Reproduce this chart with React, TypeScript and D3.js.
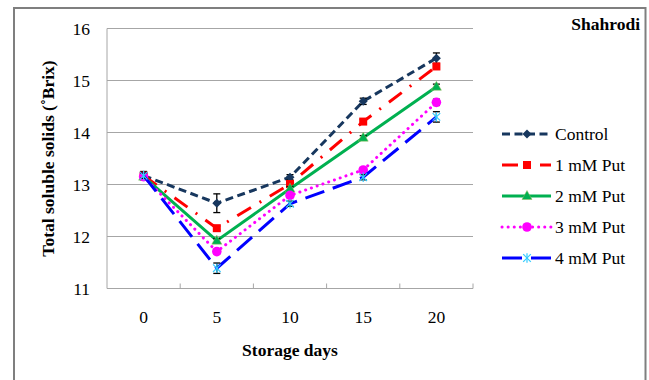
import React from "react";
import * as d3 from "d3";

const days = ["0", "5", "10", "15", "20"];
const seriesNames = ["Control", "1 mM Put", "2 mM Put", "3 mM Put", "4 mM Put"];
const control = [13.17, 12.64, 13.14, 14.6, 15.43];
const put1 = [13.17, 12.16, 13.01, 14.21, 15.27];
const put2 = [13.15, 11.92, 12.92, 13.9, 14.88];
const put3 = [13.15, 11.71, 12.79, 13.28, 14.58];
const put4 = [13.17, 11.39, 12.63, 13.14, 14.3];
const errControl = [0.08, 0.18, 0.05, 0.06, 0.1];
const errPut1 = [0.05, 0.04, 0.04, 0.04, 0.05];
const errPut2 = [0.04, 0.04, 0.04, 0.04, 0.05];
const errPut3 = [0.04, 0.04, 0.04, 0.04, 0.06];
const errPut4 = [0.05, 0.1, 0.05, 0.05, 0.1];
const yTicks = [11, 12, 13, 14, 15, 16];

const values = [control, put1, put2, put3, put4];
const errs = [errControl, errPut1, errPut2, errPut3, errPut4];
const colors = ["#17375E", "#FF0000", "#00B050", "#FF00FF", "#0000FF"];
const dashes = ["8,4.5", "16,10,2,10", "none", "0.1,6", "20,9"];
const caps = ["butt", "butt", "butt", "round", "butt"];
const markers = ["diamond", "square", "triangle", "circle", "star"];

const FONT = "Liberation Serif, DejaVu Serif, Times New Roman, serif";
const ts = { fontFamily: FONT };
const FS = 17.5;

function Marker({ type, x, y, color }: { type: string; x: number; y: number; color: string }) {
  if (type === "diamond") {
    const s = 4.5;
    return <path d={`M${x},${y - s}L${x + s},${y}L${x},${y + s}L${x - s},${y}Z`} fill={color} />;
  }
  if (type === "square") {
    return <rect x={x - 4} y={y - 4} width={8} height={8} fill={color} />;
  }
  if (type === "triangle") {
    return <path d={`M${x},${y - 5.5}L${x + 5},${y + 3.5}L${x - 5},${y + 3.5}Z`} fill={color} stroke="#9BBB59" strokeWidth={0.5} />;
  }
  if (type === "circle") {
    return <circle cx={x} cy={y} r={4.8} fill={color} />;
  }
  const s = 3.8;
  return (
    <g stroke="#33CCFF" strokeWidth={1.2}>
      <line x1={x - s} y1={y - s} x2={x + s} y2={y + s} />
      <line x1={x - s} y1={y + s} x2={x + s} y2={y - s} />
      <line x1={x} y1={y - s - 1} x2={x} y2={y + s + 1} />
    </g>
  );
}

export default function App() {
  const W = 649, H = 380;
  const left = 107, right = 473, top = 28.5, bottom = 288.5;
  const x = d3.scaleBand<string>().domain(days).range([left, right]);
  const y = d3.scaleLinear().domain([11, 16]).range([bottom, top]);
  const line = d3.line<[number, number]>().x(d => d[0]).y(d => d[1]);

  const legendY = [134, 165, 196, 227, 258];

  return (
    <svg width={W} height={H} style={{ position: "absolute", left: 0, top: 0 }}>
      <rect x={0} y={0} width={W} height={H} fill="#fff" />
      <rect x={14} y={8} width={631.5} height={380} fill="none" stroke="#7f7f7f" strokeWidth={2} />
      {yTicks.map(t => (
        <g key={t}>
          {t > 11 && <line x1={left} x2={right} y1={y(t)} y2={y(t)} stroke="#a6a6a6" strokeWidth={1} />}
          <text x={90} y={y(t)} dy="0.35em" textAnchor="end" style={ts} fontSize={FS}>{t}</text>
        </g>
      ))}
      <line x1={left} x2={left} y1={top} y2={bottom} stroke="#a6a6a6" strokeWidth={1} />
      <line x1={left} x2={right} y1={bottom} y2={bottom} stroke="#a6a6a6" strokeWidth={1} />
      {days.map((d) => (
        <g key={d}>
          <line x1={(x(d) as number) + x.bandwidth()} x2={(x(d) as number) + x.bandwidth()} y1={bottom} y2={bottom - 5} stroke="#a6a6a6" />
          <text x={(x(d) as number) + x.bandwidth() / 2} y={317} dy="0.35em" textAnchor="middle" style={ts} fontSize={FS}>{d}</text>
        </g>
      ))}
      <text x={290} y={350} dy="0.35em" textAnchor="middle" style={ts} fontSize={FS} fontWeight="bold">Storage days</text>
      <text transform={`translate(48,${(top + bottom) / 2}) rotate(-90)`} dy="0.35em" textAnchor="middle" style={ts} fontSize={FS} fontWeight="bold">Total soluble solids (˚Brix)</text>
      <text x={640} y={30} textAnchor="end" style={ts} fontSize={FS} fontWeight="bold">Shahrodi</text>

      {values.map((vals, si) => {
        const pts: [number, number][] = vals.map((v, i) => [(x(days[i]) as number) + x.bandwidth() / 2, y(v)]);
        return (
          <g key={si}>
            <path d={line(pts) || ""} fill="none" stroke={colors[si]} strokeWidth={3}
              strokeDasharray={dashes[si] === "none" ? undefined : dashes[si]}
              strokeLinecap={caps[si] as any} />
            {pts.map((p, i) => {
              const e = errs[si][i];
              const y1 = y(vals[i] + e), y2 = y(vals[i] - e);
              return (
                <g key={i} stroke="#000" strokeWidth={1.3}>
                  <line x1={p[0]} x2={p[0]} y1={y1} y2={y2} />
                  <line x1={p[0] - 3.5} x2={p[0] + 3.5} y1={y1} y2={y1} />
                  <line x1={p[0] - 3.5} x2={p[0] + 3.5} y1={y2} y2={y2} />
                </g>
              );
            })}
            {pts.map((p, i) => <Marker key={"m" + i} type={markers[si]} x={p[0]} y={p[1]} color={colors[si]} />)}
          </g>
        );
      })}

      {seriesNames.map((n, si) => (
        <g key={n}>
          <line x1={502} x2={551} y1={legendY[si]} y2={legendY[si]} stroke={colors[si]} strokeWidth={3}
            strokeDasharray={dashes[si] === "none" ? undefined : dashes[si]}
            strokeLinecap={caps[si] as any} />
          <Marker type={markers[si]} x={527} y={legendY[si]} color={colors[si]} />
          <text x={555} y={legendY[si]} dy="0.35em" style={ts} fontSize={FS}>{n}</text>
        </g>
      ))}
    </svg>
  );
}
